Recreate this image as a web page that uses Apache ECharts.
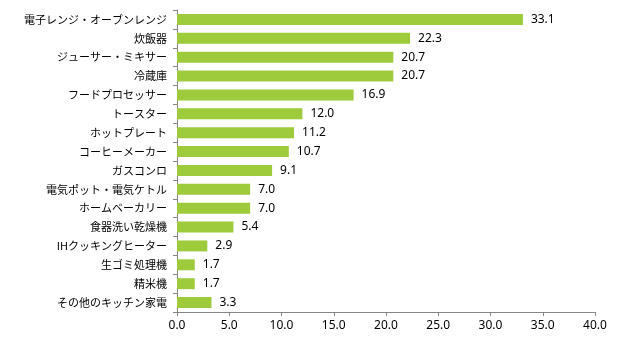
<!DOCTYPE html>
<html><head><meta charset="utf-8">
<script src="https://cdn.jsdelivr.net/npm/echarts@6/dist/echarts.min.js"></script>
<style>html,body{margin:0;padding:0;background:#fff}#c{width:630px;height:344px}</style>
</head><body><div id="c"></div>
<script>
const categories = ["電子レンジ・オーブンレンジ","炊飯器","ジューサー・ミキサー","冷蔵庫","フードプロセッサー","トースター","ホットプレート","コーヒーメーカー","ガスコンロ","電気ポット・電気ケトル","ホームベーカリー","食器洗い乾燥機","IHクッキングヒーター","生ゴミ処理機","精米機","その他のキッチン家電"];
const values = [33.1,22.3,20.7,20.7,16.9,12.0,11.2,10.7,9.1,7.0,7.0,5.4,2.9,1.7,1.7,3.3];
const xTicks = [0,5,10,15,20,25,30,35,40];
const font = '"Noto Sans CJK JP", sans-serif';
const numFont = '"Noto Sans", sans-serif';
const chart = echarts.init(document.getElementById('c'));
chart.setOption({
  animation:false,
  grid:{left:177,right:35,top:10,bottom:32,containLabel:false},
  xAxis:{type:'value',min:xTicks[0],max:xTicks[xTicks.length-1],interval:5,
    axisLine:{show:true,lineStyle:{color:'#868686'}},
    axisTick:{show:true,length:4,lineStyle:{color:'#868686'}},
    splitLine:{show:false},
    axisLabel:{formatter:v=>v.toFixed(1),color:'#000',fontFamily:numFont,fontSize:12,margin:8}},
  yAxis:{type:'category',inverse:true,data:categories,
    axisLine:{show:true,lineStyle:{color:'#868686'}},
    axisTick:{show:true,length:4,lineStyle:{color:'#868686'}},
    axisLabel:{color:'#000',fontFamily:font,fontSize:11,margin:10}},
  series:[{type:'bar',data:values,barCategoryGap:'42%',
    itemStyle:{color:'#9DCB3C'},
    label:{show:true,position:'right',distance:8,formatter:p=>p.value.toFixed(1),color:'#000',fontFamily:numFont,fontSize:12}}]
});
</script></body></html>
